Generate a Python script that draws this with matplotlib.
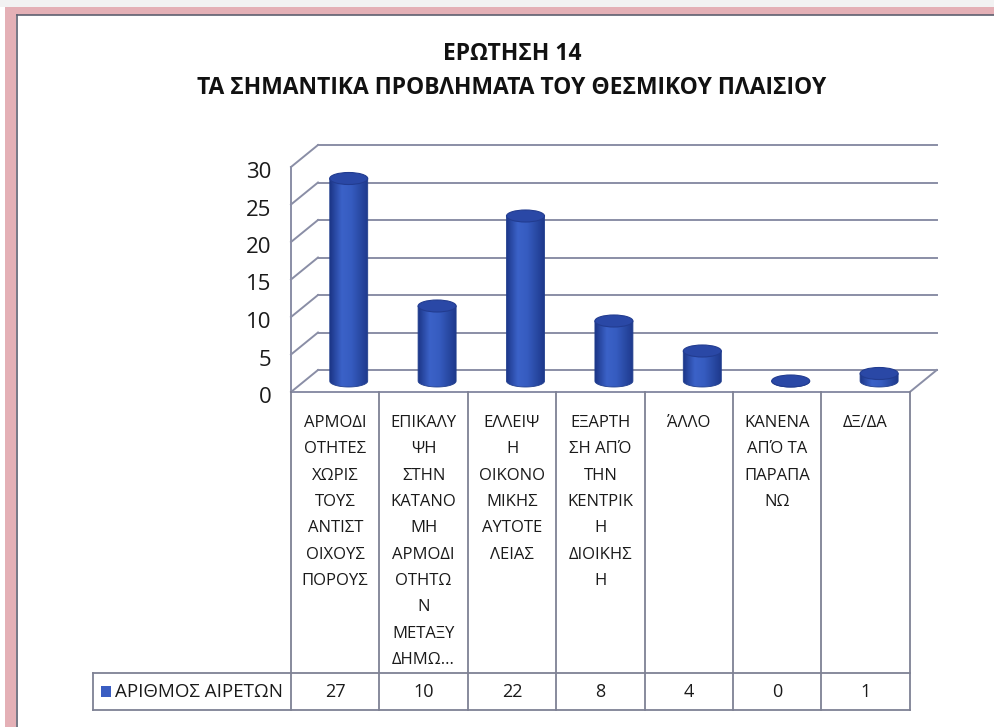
import matplotlib.pyplot as plt
import numpy as np
from matplotlib.patches import Rectangle, Ellipse, Polygon
from matplotlib.lines import Line2D
from matplotlib.colors import LinearSegmentedColormap
from matplotlib.transforms import ScaledTranslation

plt.rcParams['font.family'] = ['Open Sans', 'DejaVu Sans']

title = 'ΕΡΩΤΗΣΗ 14\nΤΑ ΣΗΜΑΝΤΙΚΑ ΠΡΟΒΛΗΜΑΤΑ ΤΟΥ ΘΕΣΜΙΚΟΥ ΠΛΑΙΣΙΟΥ'
series_name = 'ΑΡΙΘΜΟΣ ΑΙΡΕΤΩΝ'
categories = [
    'ΑΡΜΟΔΙ\nΟΤΗΤΕΣ\nΧΩΡΙΣ\nΤΟΥΣ\nΑΝΤΙΣΤ\nΟΙΧΟΥΣ\nΠΟΡΟΥΣ',
    'ΕΠΙΚΑΛΥ\nΨΗ\nΣΤΗΝ\nΚΑΤΑΝΟ\nΜΗ\nΑΡΜΟΔΙ\nΟΤΗΤΩ\nΝ\nΜΕΤΑΞΥ\nΔΗΜΩ...',
    'ΕΛΛΕΙΨ\nΗ\nΟΙΚΟΝΟ\nΜΙΚΗΣ\nΑΥΤΟΤΕ\nΛΕΙΑΣ',
    'ΕΞΑΡΤΗ\nΣΗ ΑΠΌ\nΤΗΝ\nΚΕΝΤΡΙΚ\nΗ\nΔΙΟΙΚΗΣ\nΗ',
    'ΆΛΛΟ',
    'ΚΑΝΕΝΑ\nΑΠΌ ΤΑ\nΠΑΡΑΠΑ\nΝΩ',
    'ΔΞ/ΔΑ',
]
values = [27, 10, 22, 8, 4, 0, 1]
yticks = [0, 5, 10, 15, 20, 25, 30]

W, H = 995, 727
def fx(px):
    return px / W
def fy(py):
    return 1 - py / H

grid_c = '#8A8EA6'
n = len(values)
col_px = 88.4
unit_px = 7.5
dxd = 27 / col_px      # depth offset in columns
dyd = 22 / unit_px     # depth offset in value units

fig = plt.figure(figsize=(W / 100, H / 100), dpi=100)
fig.patch.set_facecolor('white')

# scanned frame
fig.patches.append(Rectangle((fx(0), fy(7)), 1, 7 / H, transform=fig.transFigure,
                             facecolor='#F2F2F2', edgecolor='none'))
fig.patches.append(Rectangle((fx(5), fy(15)), 990 / W, 8 / H, transform=fig.transFigure,
                             facecolor='#E4B0B6', edgecolor='none'))
fig.patches.append(Rectangle((fx(5), 0), 11 / W, fy(7), transform=fig.transFigure,
                             facecolor='#E4B0B6', edgecolor='none'))
fig.lines.append(Line2D([fx(17), fx(17)], [0, fy(15)], transform=fig.transFigure,
                        color='#5E6070', lw=1.2))
fig.lines.append(Line2D([fx(17), 1], [fy(15), fy(15)], transform=fig.transFigure,
                        color='#5E6070', lw=1.2))

fig.text(fx(512), fy(71), title, ha='center', va='center', fontsize=16.5,
         fontweight='bold', color='#111111', linespacing=1.55)

# plot area
ax = fig.add_axes([fx(291), fy(392), (940 - 291) / W, (392 - 137) / H])
ax.set_xlim(0, (940 - 291) / col_px)
ax.set_ylim(0, (392 - 137) / unit_px)
for s in ax.spines.values():
    s.set_visible(False)
ax.patch.set_visible(False)
ax.set_xticks([])
ax.set_yticks(yticks)
ax.tick_params(axis='y', length=0, pad=14, labelsize=16, labelcolor='#1A1A1A')
shift = ScaledTranslation(0, -3 / 100, fig.dpi_scale_trans)
for lab in ax.get_yticklabels():
    lab.set_transform(lab.get_transform() + shift)

for t in yticks:
    ax.plot([0, dxd], [t, t + dyd], color=grid_c, lw=1.4, clip_on=False, zorder=1)
    ax.plot([dxd, n + dxd], [t + dyd, t + dyd], color=grid_c, lw=1.4, clip_on=False, zorder=1)
ax.plot([0, 0], [0, yticks[-1]], color=grid_c, lw=1.4, clip_on=False, zorder=1)
ax.plot([0, n], [0, 0], color=grid_c, lw=1.4, clip_on=False, zorder=1)
ax.plot([n, n + dxd], [0, dyd], color=grid_c, lw=1.4, clip_on=False, zorder=1)

# cylinders
cmap = LinearSegmentedColormap.from_list(
    'cyl', [(0, '#1C3688'), (0.3, '#3B62C8'), (0.55, '#365CC0'), (1, '#1D388A')])
bw = 0.43
eh = 1.6
base = dyd / 2
theta = np.linspace(np.pi, 2 * np.pi, 40)
for i, v in enumerate(values):
    cx = i + 0.5 + dxd / 2
    xs = cx + bw / 2 * np.cos(theta)
    ys = base + eh / 2 * np.sin(theta)
    pts = np.column_stack([np.r_[xs, cx + bw / 2, cx - bw / 2],
                           np.r_[ys, base + v, base + v]])
    body = Polygon(pts, closed=True, facecolor='none', edgecolor='#22408F',
                   lw=0.6, zorder=3)
    ax.add_patch(body)
    im = ax.imshow(np.linspace(0, 1, 100)[None, :], cmap=cmap, aspect='auto',
                   extent=(cx - bw / 2, cx + bw / 2, base - eh / 2, base + v),
                   zorder=2.5, interpolation='bilinear')
    im.set_clip_path(body)
    ax.add_patch(Ellipse((cx, base + v), bw, eh, facecolor='#2A48A6',
                         edgecolor='#223C90', lw=0.8, zorder=4))

ax.set_xlim(0, (940 - 291) / col_px)
ax.set_ylim(0, (392 - 137) / unit_px)

# data table
tax = fig.add_axes([fx(291), fy(712), (940 - 291) / W, (712 - 392) / H])
tax.set_xlim(ax.get_xlim())
tax.set_ylim(712, 392)
tax.axis('off')
tab_c = '#7E8194'
leg_x = (93 - 291) / col_px
for i in range(n + 1):
    tax.plot([i, i], [392, 710], color=tab_c, lw=1.3, clip_on=False)
tax.plot([leg_x, n], [673, 673], color=tab_c, lw=1.3, clip_on=False)
tax.plot([leg_x, n], [710, 710], color=tab_c, lw=1.3, clip_on=False)
tax.plot([leg_x, leg_x], [673, 710], color=tab_c, lw=1.3, clip_on=False)

for i, (cat, v) in enumerate(zip(categories, values)):
    tax.text(i + 0.5, 415, cat, ha='center', va='top', fontsize=12,
             color='#1A1A1A', linespacing=1.86)
    tax.text(i + 0.5, 692, str(v), ha='center', va='center', fontsize=13,
             color='#1A1A1A')

tax.add_patch(Rectangle((leg_x + 8 / col_px, 686), 10 / col_px, 11,
                        facecolor='#3A5DC2', edgecolor='none', clip_on=False))
tax.text(leg_x + 22 / col_px, 692, series_name, ha='left', va='center',
         fontsize=13.5, color='#1A1A1A')

fig.savefig('out.png', dpi=100)
